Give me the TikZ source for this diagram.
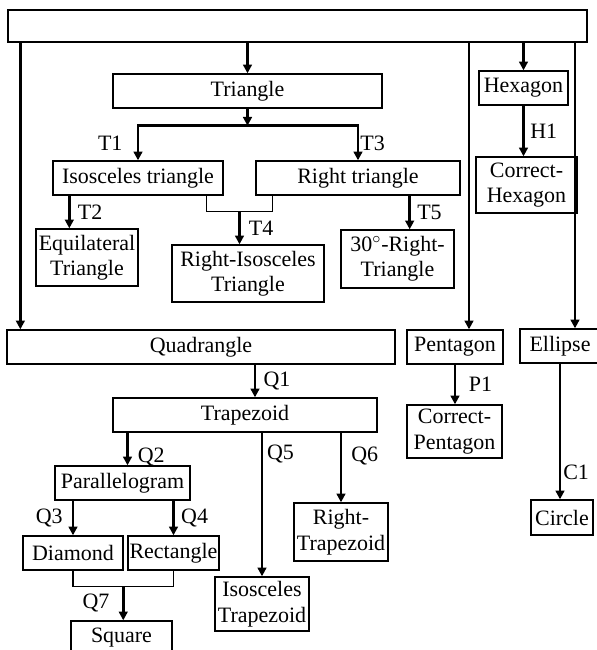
\documentclass[tikz,border=0pt]{standalone}
\usepackage{fontspec}
\setmainfont{Liberation Serif}
\usetikzlibrary{arrows.meta,calc}

\begin{document}
\begin{tikzpicture}[x=0.02cm,y=-0.02cm,
  box/.style={draw,line width=0.8pt,align=center,inner sep=0pt,font=\fontsize{12.5}{14.5}\selectfont},
  arr/.style={line width=1.7pt,-{Triangle[length=5pt,width=5pt]}},
  link/.style={line width=0.8pt},
  lab/.style={font=\fontsize{12.5}{14.5}\selectfont,inner sep=0pt}]
\useasboundingbox (0,0) rectangle (597,650);
\clip (0,0) rectangle (597,650);
% boxes
\node[box,minimum width=11.58cm,minimum height=0.64cm] (top) at (297.5,26) {};
\node[box,minimum width=5.38cm,minimum height=0.68cm] (tri) at (247.5,91) {Triangle};
\node[box,minimum width=1.78cm,minimum height=0.68cm] (hex) at (523.5,88) {Hexagon};
\node[box,minimum width=3.4cm,minimum height=0.68cm] (iso) at (138,178) {Isosceles triangle};
\node[box,minimum width=4.08cm,minimum height=0.68cm] (rt) at (358,178) {Right triangle};
\node[box,minimum width=2.02cm,minimum height=1.12cm] (chex) at (526.5,185) {Correct-\\Hexagon};
\node[box,minimum width=2.04cm,minimum height=1.14cm] (eq) at (87,257.5) {Equilateral\\Triangle};
\node[box,minimum width=3.04cm,minimum height=1.14cm] (ri) at (248,273.5) {Right-Isosceles\\Triangle};
\node[box,minimum width=2.26cm,minimum height=1.16cm] (r30) at (397.5,259) {30$^{\circ}$-Right-\\Triangle};
\node[box,minimum width=7.76cm,minimum height=0.68cm] (quad) at (201,347) {Quadrangle};
\node[box,minimum width=1.92cm,minimum height=0.68cm] (pent) at (455,347) {Pentagon};
\node[box,minimum width=1.6cm,minimum height=0.68cm] (ell) at (560,346) {Ellipse};
\node[box,minimum width=5.28cm,minimum height=0.68cm] (trap) at (245,415) {Trapezoid};
\node[box,minimum width=1.9cm,minimum height=1.06cm] (cpent) at (454.5,431.5) {Correct-\\Pentagon};
\node[box,minimum width=2.7cm,minimum height=0.68cm] (par) at (122.5,483) {Parallelogram};
\node[box,minimum width=1.88cm,minimum height=1.16cm] (rtrap) at (341,532) {Right-\\Trapezoid};
\node[box,minimum width=1.24cm,minimum height=0.7cm] (circ) at (562,517.5) {Circle};
\node[box,minimum width=2.0cm,minimum height=0.68cm] (dia) at (73,553) {Diamond};
\node[box,minimum width=1.82cm,minimum height=0.68cm] (rect) at (173.5,553) {Rectangle};
\node[box,minimum width=1.88cm,minimum height=1.08cm] (itrap) at (262,604) {Isosceles\\Trapezoid};
\node[box,minimum width=2.02cm,minimum height=0.68cm] (sq) at (121.5,638) {Square};
% triangles
\draw[arr] (top.south -| tri.north) -- (tri.north);
\coordinate (tj) at ($(tri.south)+(0,17)$);
\draw[arr] (tri.south) -- (tj);
\draw[arr] (tj) -| (iso.north) node[lab,left=8pt,pos=0.75] (t1) {T1};
\draw[arr] (tj) -| (rt.north) node[lab,right=0.5pt,pos=0.75] (t3) {T3};
\coordinate (t2a) at ($(iso.south west)+(17,0)$);
\draw[arr] (t2a) -- (t2a |- eq.north) node[lab,right=4pt,midway] (t2) {T2};
\coordinate (t4a) at ($(iso.south east)+(-17,0)$);
\coordinate (t4b) at ($(rt.south west)+(17,0)$);
\coordinate (t4) at ($(t4a)!0.5!(t4b)+(0,16)$);
\draw[link] (t4a) |- (t4) -| (t4b);
\draw[arr] (t4) -- (t4 |- ri.north) node[lab,right=4.5pt,midway] (t4l) {T4};
\coordinate (t5a) at ($(rt.south east)+(-51,0)$);
\draw[arr] (t5a) -- (t5a |- r30.north) node[lab,right=3.5pt,midway] (t5) {T5};
% hexagon
\draw[arr] (top.south -| hex.north) -- (hex.north);
\draw[arr] (hex.south) -- (hex.south |- chex.north) node[lab,right=3pt,midway] (h1) {H1};
% long lines
\coordinate (qa) at ($(top.south west)+(13,0)$);
\draw[arr] (qa) -- (qa |- quad.north);
\coordinate (pa) at ($(pent.north)+(14,0)$);
\draw[arr] (pa |- top.south) -- (pa);
\coordinate (ea) at ($(ell.north)+(15,0)$);
\draw[arr] (ea |- top.south) -- (ea);
% quadrangles
\coordinate (q1a) at ($(trap.north)+(10,0)$);
\draw[arr] (q1a |- quad.south) -- (q1a) node[lab,right=4pt,midway] (q1) {Q1};
\coordinate (q2a) at ($(par.north)+(5,0)$);
\draw[arr] (q2a |- trap.south) -- (q2a) node[lab,right=5pt,pos=0.74] (q2) {Q2};
\draw[arr] (par.south -| dia.north) -- (dia.north) node[lab,left=5pt,midway] (q3) {Q3};
\draw[arr] (par.south -| rect.north) -- (rect.north) node[lab,right=3.5pt,midway] (q4) {Q4};
\coordinate (q7) at ($(dia.south)!0.5!(rect.south)+(0,16)$);
\draw[link] (dia.south) |- (q7) -| (rect.south);
\draw[arr] (q7) -- (q7 |- sq.north) node[lab,left=7pt,midway] (q7l) {Q7};
\draw[arr] (trap.south -| itrap.north) -- (itrap.north) node[lab,right=2pt,pos=0.15] (q5) {Q5};
\draw[arr] (trap.south -| rtrap.north) -- (rtrap.north) node[lab,right=5pt,pos=0.34] (q6) {Q6};
% pentagon, ellipse
\draw[arr] (pent.south) -- (pent.south |- cpent.north) node[lab,right=7pt,midway] (p1) {P1};
\draw[arr] (ell.south) -- (ell.south |- circ.north) node[lab,right=1pt,pos=0.8] (c1) {C1};
\end{tikzpicture}
\end{document}
